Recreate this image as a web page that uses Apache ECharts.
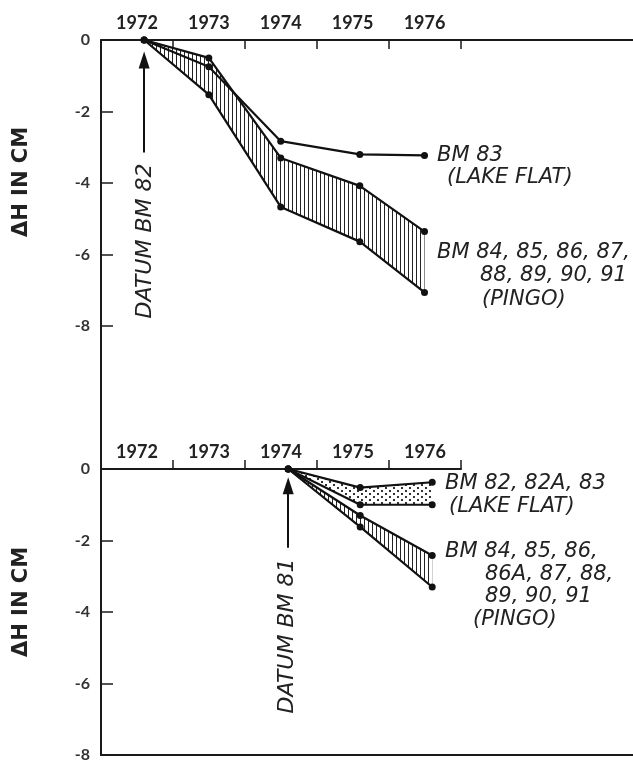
<!DOCTYPE html>
<html>
<head>
<meta charset="utf-8">
<script src="https://cdn.jsdelivr.net/npm/echarts@6/dist/echarts.min.js"></script>
<style>
html,body{margin:0;padding:0;background:#fff;}
#chart{width:633px;height:763px;}
</style>
</head>
<body>
<div id="chart"></div>
<script>
// ---------- data ----------
const yearLabels = ['1972', '1973', '1974', '1975', '1976'];
const yearCenters = [1972, 1973, 1974, 1975, 1976];
const yearTicks = [1972.5, 1973.5, 1974.5, 1975.5, 1976.5];
const yTickValues = [-2, -4, -6, -8];
const yLabelValues = [0, -2, -4, -6, -8];

// top panel (datum BM 82), survey times
const topYears = [1972.1, 1973.0, 1974.0, 1975.1, 1976.0];
const topBM83 = [0, -0.75, -2.83, -3.2, -3.23];
const topPingoUpper = [0, -0.5, -3.3, -4.08, -5.36];
const topPingoLower = [0, -1.53, -4.67, -5.64, -7.06];

// bottom panel (datum BM 81)
const botYears = [1974.1, 1975.1, 1976.1];
const botLakeUpper = [0, -0.52, -0.37];
const botLakeLower = [0, -1.0, -1.0];
const botPingoUpper = [0, -1.3, -2.42];
const botPingoLower = [0, -1.62, -3.3];

// ---------- patterns ----------
function hatchCanvas() {
  const c = document.createElement('canvas');
  c.width = 4; c.height = 4;
  const ctx = c.getContext('2d');
  ctx.fillStyle = '#fff'; ctx.fillRect(0, 0, 4, 4);
  ctx.fillStyle = '#222'; ctx.fillRect(0, 0, 1, 4);
  return c;
}
function dotCanvas() {
  const c = document.createElement('canvas');
  c.width = 8; c.height = 6;
  const ctx = c.getContext('2d');
  ctx.fillStyle = '#fff'; ctx.fillRect(0, 0, 8, 6);
  ctx.fillStyle = '#333';
  ctx.fillRect(1, 1, 2, 2);
  ctx.fillRect(5, 4, 2, 2);
  return c;
}
const hatch = { image: hatchCanvas(), repeat: 'repeat' };
const dots = { image: dotCanvas(), repeat: 'repeat' };

function band(xs, up, lo, fill, xi, yi) {
  return {
    type: 'custom', xAxisIndex: xi, yAxisIndex: yi, z: 1, silent: true,
    data: xs.map((x, i) => [x, up[i], lo[i]]),
    renderItem: function (params, api) {
      if (params.dataIndex !== 0) return null;
      const pts = [];
      for (let i = 0; i < xs.length; i++) pts.push(api.coord([xs[i], up[i]]));
      for (let i = xs.length - 1; i >= 0; i--) pts.push(api.coord([xs[i], lo[i]]));
      return { type: 'polygon', shape: { points: pts }, style: { fill: fill, stroke: null } };
    }
  };
}
function line(xs, ys, xi, yi, extra) {
  return Object.assign({
    type: 'line', xAxisIndex: xi, yAxisIndex: yi, z: 3,
    data: xs.map((x, i) => [x, ys[i]]),
    symbol: 'circle', symbolSize: 7, showSymbol: true,
    itemStyle: { color: '#111' },
    lineStyle: { color: '#111', width: 2.2 },
    silent: true
  }, extra || {});
}

const axisColor = '#1a1a1a';
const yearLabelStyle = {
  customValues: yearCenters,
  formatter: v => yearLabels[yearCenters.indexOf(Math.round(v))] || '',
  color: '#222', fontFamily: 'Lato', fontWeight: 'bold', fontSize: 18, margin: 8
};
const yLabelStyle = {
  customValues: yLabelValues,
  formatter: v => String(v),
  color: '#333', fontFamily: 'Lato', fontWeight: 'bold', fontSize: 16, margin: 11
};

const arrowLine = (x, y1, y2) => ({
  silent: true, symbol: ['none', 'triangle'], symbolSize: [11, 17],
  lineStyle: { color: '#111', width: 2, type: 'solid' },
  label: { show: false },
  data: [[{ coord: [x, y1] }, { coord: [x, y2] }]]
});

const annFont = 'italic 21px "DejaVu Sans"';
function txt(text, x, y, font, rot, align) {
  return {
    type: 'text', x: x, y: y, rotation: rot || 0, silent: true,
    style: { text: text, font: font || annFont, fill: '#222',
      align: align || 'left', verticalAlign: 'middle' }
  };
}

const option = {
  animation: false,
  backgroundColor: '#fff',
  grid: [
    { left: 101, top: 40, width: 532, height: 429 },
    { left: 101, top: 469, width: 360, height: 286 },
    { left: 101, top: 469, width: 532, height: 286 }
  ],
  xAxis: [
    { gridIndex: 0, type: 'value', position: 'top', min: 1971.5, max: 1978.9,
      axisLine: { show: true, onZero: false, lineStyle: { color: axisColor, width: 2 } },
      axisTick: { show: true, inside: true, length: 9, customValues: yearTicks, lineStyle: { color: axisColor, width: 1.5 } },
      axisLabel: yearLabelStyle, splitLine: { show: false } },
    { gridIndex: 1, type: 'value', position: 'top', min: 1971.5, max: 1976.5,
      axisLine: { show: true, onZero: false, lineStyle: { color: axisColor, width: 2 } },
      axisTick: { show: true, inside: false, length: 9, customValues: yearTicks, lineStyle: { color: axisColor, width: 1.5 } },
      axisLabel: yearLabelStyle, splitLine: { show: false } },
    { gridIndex: 2, type: 'value', position: 'bottom', min: 1971.5, max: 1978.9,
      axisLine: { show: true, onZero: false, lineStyle: { color: axisColor, width: 2 } },
      axisTick: { show: false }, axisLabel: { show: false }, splitLine: { show: false } }
  ],
  yAxis: [
    { gridIndex: 0, type: 'value', min: -12, max: 0,
      axisLine: { show: true, onZero: false, lineStyle: { color: axisColor, width: 2 } },
      axisTick: { show: true, inside: true, length: 12, customValues: yTickValues, lineStyle: { color: axisColor, width: 1.5 } },
      axisLabel: yLabelStyle, splitLine: { show: false } },
    { gridIndex: 1, type: 'value', min: -8, max: 0,
      axisLine: { show: true, onZero: false, lineStyle: { color: axisColor, width: 2 } },
      axisTick: { show: true, inside: true, length: 12, customValues: [-2, -4, -6], lineStyle: { color: axisColor, width: 1.5 } },
      axisLabel: yLabelStyle, splitLine: { show: false } },
    { gridIndex: 2, type: 'value', min: -8, max: 0, show: false }
  ],
  series: [
    band(topYears, topPingoUpper, topPingoLower, hatch, 0, 0),
    line(topYears, topBM83, 0, 0),
    line(topYears, topPingoUpper, 0, 0),
    line(topYears, topPingoLower, 0, 0, { markLine: arrowLine(topYears[0], -3.15, -0.56) }),
    band(botYears, botLakeUpper, botLakeLower, dots, 1, 1),
    band(botYears, botPingoUpper, botPingoLower, hatch, 1, 1),
    line(botYears, botLakeUpper, 1, 1),
    line(botYears, botLakeLower, 1, 1),
    line(botYears, botPingoUpper, 1, 1),
    line(botYears, botPingoLower, 1, 1, { markLine: arrowLine(botYears[0], -2.2, -0.47) })
  ],
  graphic: [
    txt('\u0394H IN CM', 22, 182, 'bold 21px "DejaVu Sans"', Math.PI / 2, 'center'),
    txt('\u0394H IN CM', 22, 602, 'bold 21px "DejaVu Sans"', Math.PI / 2, 'center'),
    txt('DATUM BM 82', 145, 241, 'italic 22px "DejaVu Sans"', Math.PI / 2, 'center'),
    txt('DATUM BM 81', 287, 636, 'italic 22px "DejaVu Sans"', Math.PI / 2, 'center'),
    txt('BM 83', 437, 156),
    txt('(LAKE FLAT)', 447, 178),
    txt('BM 84, 85, 86, 87,', 437, 253),
    txt('88, 89, 90, 91', 480, 276),
    txt('(PINGO)', 482, 300),
    txt('BM 82, 82A, 83', 445, 484),
    txt('(LAKE FLAT)', 449, 507),
    txt('BM 84, 85, 86,', 445, 552),
    txt('86A, 87, 88,', 485, 575),
    txt('89, 90, 91', 485, 597),
    txt('(PINGO)', 473, 620)
  ]
};

const chart = echarts.init(document.getElementById('chart'), null, { renderer: 'canvas' });
chart.setOption(option);
</script>
</body>
</html>
